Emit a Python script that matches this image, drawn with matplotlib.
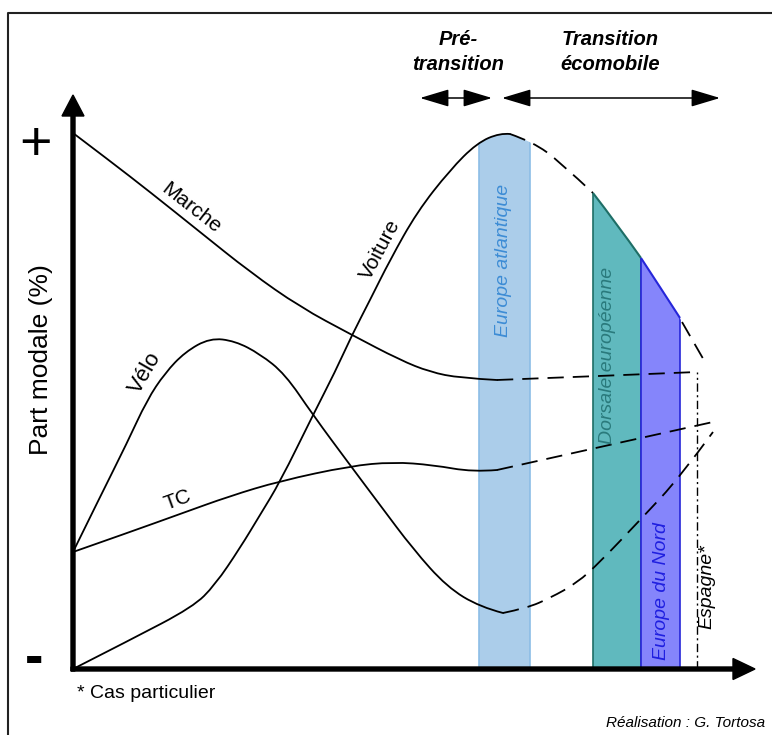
import matplotlib
matplotlib.use("Agg")
import matplotlib.pyplot as plt
from matplotlib.patches import Rectangle, PathPatch
from matplotlib.path import Path
import numpy as np

plt.rcParams["font.family"] = ["Liberation Sans", "DejaVu Sans"]

# ------------------------------------------------------------
# Data (diagram units: x = time since origin, y = part modale)
# ------------------------------------------------------------
marche_x = [0, 37, 77, 127, 177, 227, 279, 327, 357, 387, 424]
marche_y = [536, 508, 477, 437, 397, 362, 334, 309, 297, 291, 289]
marche_dash_x = [424, 527, 624]
marche_dash_y = [289, 293, 297]

velo_x = [0, 27, 54, 74, 92, 112, 137, 162, 187, 212, 240, 277, 307, 340, 374, 407, 430]
velo_y = [117, 172, 226, 269, 296, 317, 331, 328, 315, 295, 254, 204, 164, 120, 82, 62, 56]
velo_dash_x = [430, 454, 477, 504, 527, 569, 607, 640]
velo_dash_y = [56, 61, 71, 86, 107, 151, 192, 237]

voiture_x = [0, 57, 120, 142, 167, 187, 207, 240, 262, 279, 297, 317, 344, 377, 404, 427, 437]
voiture_y = [0, 29, 62, 84, 121, 154, 187, 254, 297, 334, 369, 409, 457, 499, 526, 536, 535]
voiture_dash_x = [437, 460, 487, 520]
voiture_dash_y = [535, 527, 507, 476]
voiture_dorsale_x = [520, 544, 568]
voiture_dorsale_y = [476, 445, 411]
voiture_nord_x = [568, 587, 607]
voiture_nord_y = [411, 382, 351]
voiture_tail_x = [609, 632]
voiture_tail_y = [347, 307]

tc_x = [0, 57, 107, 157, 207, 277, 320, 360, 400, 424]
tc_y = [117, 137, 155, 173, 188, 203, 207, 204, 197, 199]
tc_dash_x = [424, 527, 640]
tc_dash_y = [199, 222, 247]

# regional bands: label, x start, x end, fill, edge, text colour
bands = [
    ("Europe atlantique", 406, 457, "#abcdea", "#8cbde6", "#3d8cd5"),
    ("Dorsale européenne", 520, 568, "#60b9be", "#1e6e66", "#2a7a7c"),
    ("Europe du Nord", 568, 607, "#8585fb", "#2626d9", "#1f1fe0"),
]
espagne_x = 624
espagne_top = 297


def smooth_path(xs, ys):
    # quadratic bezier through the midpoints, read points used as controls
    pts = np.column_stack([xs, ys]).astype(float)
    if len(pts) < 3:
        return Path(pts)
    verts = [pts[0]]
    codes = [Path.MOVETO]
    for i in range(1, len(pts) - 1):
        end = pts[i + 1] if i == len(pts) - 2 else (pts[i] + pts[i + 1]) / 2
        verts += [pts[i], end]
        codes += [Path.CURVE3, Path.CURVE3]
    return Path(verts, codes)


def draw(ax, xs, ys, **kw):
    p = PathPatch(smooth_path(xs, ys), fill=False, **kw)
    ax.add_patch(p)
    return p


# ------------------------------------------------------------
# Figure
# ------------------------------------------------------------
fig = plt.figure(figsize=(7.72, 7.35), dpi=100, facecolor="white")
ax = fig.add_axes([0, 0, 1, 1])
ax.set_xlim(-73, 699)
ax.set_ylim(-66, 669)
ax.axis("off")

# outer frame
ax.plot([-65.5, -65.5, 710], [-80, 656, 656], color="#222222", lw=1.5, zorder=1)

# clip path = area under the Voiture curve
segs = [(voiture_x, voiture_y), (voiture_dash_x, voiture_dash_y),
        (voiture_dorsale_x, voiture_dorsale_y), (voiture_nord_x, voiture_nord_y),
        (voiture_tail_x, voiture_tail_y)]
outline = []
for sx, sy in segs:
    for poly in smooth_path(sx, sy).to_polygons(closed_only=False):
        outline.extend(poly.tolist())
outline += [[outline[-1][0], 0], [0, 0]]
clip = PathPatch(Path(outline, closed=True), transform=ax.transData,
                 facecolor="none", edgecolor="none")
ax.add_patch(clip)

for name, x0, x1, fc, ec, tc in bands:
    r = Rectangle((x0, 0), x1 - x0, 600, facecolor=fc, edgecolor=ec, lw=1.2, zorder=2)
    ax.add_patch(r)
    r.set_clip_path(clip)

band_txt = dict(rotation=90, ha="center", va="center", fontsize=14, style="italic", zorder=5)
ax.text(430, 409, "Europe atlantique", color=bands[0][5], **band_txt)
ax.text(535, 314, "Dorsale européenne", color=bands[1][5], **band_txt)
ax.text(588, 78, "Europe du Nord", color=bands[2][5], **band_txt)

# Espagne dash-dot line
ax.plot([espagne_x, espagne_x], [0, espagne_top], color="black", lw=1.0,
        linestyle=(0, (6, 2.5, 1.5, 2.5)), zorder=3)
ax.text(634, 82, "Espagne*", color="black", **band_txt)

# curves
solid = dict(edgecolor="black", lw=1.3, zorder=4, capstyle="round")
dashed = dict(edgecolor="black", lw=1.3, zorder=4, linestyle=(0, (9, 5)))
draw(ax, marche_x, marche_y, **solid)
draw(ax, marche_dash_x, marche_dash_y, **dashed)
draw(ax, velo_x, velo_y, **solid)
draw(ax, velo_dash_x, velo_dash_y, **dashed)
draw(ax, voiture_x, voiture_y, **solid)
draw(ax, voiture_dash_x, voiture_dash_y, **dashed)
draw(ax, voiture_dorsale_x, voiture_dorsale_y, edgecolor="#1e6e66", lw=1.5, zorder=4)
draw(ax, voiture_nord_x, voiture_nord_y, edgecolor="#2626d9", lw=1.5, zorder=4)
draw(ax, voiture_tail_x, voiture_tail_y, **dashed)
draw(ax, tc_x, tc_y, **solid)
draw(ax, tc_dash_x, tc_dash_y, **dashed)

# curve labels
lab = dict(fontsize=15, ha="center", va="center", rotation_mode="anchor", zorder=5)
ax.text(118, 461, "Marche", rotation=-38, **lab)
ax.text(72, 296, "Vélo", fontsize=16, rotation=60, ha="center", va="center",
        rotation_mode="anchor", zorder=5)
ax.text(105, 169, "TC", rotation=20, **lab)
ax.text(307, 419, "Voiture", rotation=62, **lab)

# axes arrows
ax.arrow(0, -2, 0, 576, width=4, head_width=22, head_length=21,
         length_includes_head=True, color="black", zorder=6)
ax.arrow(-2, 0, 684, 0, width=4, head_width=21, head_length=22,
         length_includes_head=True, color="black", zorder=6)

ax.text(-37, 523, "+", fontsize=40, ha="center", va="center")
ax.text(-39, 9, "-", fontsize=40, fontweight="bold", ha="center", va="center")
ax.text(-32, 309, "Part modale (%)", rotation=90, fontsize=19, ha="center", va="center")

# phases
phase = dict(fontsize=14.5, fontweight="bold", style="italic", ha="center",
             va="center", linespacing=1.45)
ax.text(385, 617, "Pré-\ntransition", **phase)
ax.text(537, 617, "Transition\nécomobile", **phase)
arr = dict(arrowstyle="<|-|>,head_length=1.0,head_width=0.3", color="black", lw=1.1,
           shrinkA=0, shrinkB=0, mutation_scale=18)
ax.annotate("", xy=(419, 571), xytext=(347, 571), arrowprops=arr)
ax.annotate("", xy=(647, 571), xytext=(429, 571), arrowprops=arr)

ax.text(4, -24, "* Cas particulier", fontsize=14, ha="left", va="center")
ax.text(692, -54, "Réalisation : G. Tortosa", fontsize=11, style="italic",
        ha="right", va="center")

fig.savefig("out.png", dpi=100, facecolor="white")
